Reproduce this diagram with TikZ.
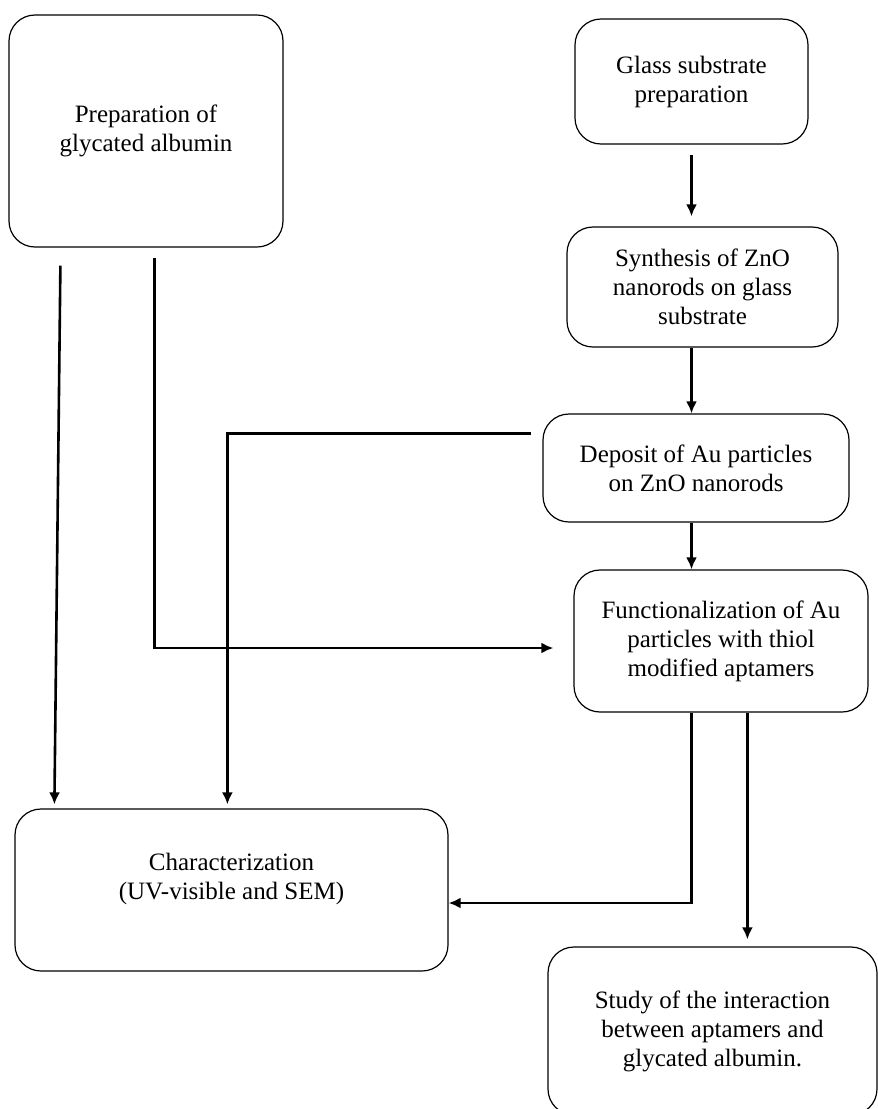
\documentclass[tikz,border=0pt]{standalone}
\usepackage{fontspec}
\setmainfont{Liberation Serif}
\usetikzlibrary{arrows.meta,calc}

\begin{document}
\begin{tikzpicture}[
		x=0.5pt,y=-0.5pt,
		box/.style={rectangle,draw,rounded corners=13pt,line width=0.6pt,align=center,
			font=\fontsize{12.5}{14.5}\selectfont},
		flow/.style={line width=1.3pt,-{Latex[length=6pt,width=5.5pt]}}
		]
		\useasboundingbox (0,0) rectangle (878,1109);
		\node[box,minimum width=137pt,minimum height=116pt] (prep) at (146,131) {Preparation of\\glycated albumin};
		\node[box,minimum width=116.5pt,minimum height=62.5pt] (glass) at (691.5,81.5) {Glass substrate\\preparation};
		\node[box,minimum width=135.5pt,minimum height=60pt] (synth) at (702.5,287) {Synthesis of ZnO\\nanorods on glass\\substrate};
		\node[box,minimum width=153pt,minimum height=54pt] (dep) at (696,468) {Deposit of Au particles\\on ZnO nanorods};
		\node[box,minimum width=147pt,minimum height=71pt] (func) at (721,641) {Functionalization of Au\\particles with thiol\\modified aptamers};
		\node[box,minimum width=216.5pt,minimum height=81pt] (char) at (231.5,890) {Characterization\\(UV-visible and SEM)\\[-0.5pt]};
		\node[box,minimum width=164.5pt,minimum height=84pt] (study) at (712.5,1031) {Study of the interaction\\between aptamers and\\glycated albumin.};
		\coordinate (p1) at ($(prep.south west)+(52,18)$);
		\coordinate (p2) at ($(prep.south west)+(146,10)$);
		\coordinate (q1) at ($(char.north west)+(40,-4)$);
		\coordinate (q2) at ($(func.west)+(-20,7)$);
		\coordinate (d1) at ($(dep.north west)+(-11,20)$);
		\coordinate (d2) at ($(char.north west)+(213,-4)$);
		\coordinate (f1) at ($(func.south west)+(118,0)$);
		\coordinate (f2) at ($(func.south west)+(174,0)$);
		\coordinate (c1) at ($(char.east)+(0,13)$);
		\coordinate (s1) at ($(study.north west)+(200,-7)$);
		\draw[flow,shorten <=5pt,shorten >=5pt] (glass.south) -- (synth.north -| glass.south);
		\draw[flow] (synth.south -| glass.south) -- (dep.north -| glass.south);
		\draw[flow] (dep.south -| glass.south) -- (func.north -| glass.south);
		\draw[flow] (p1) -- (q1);
		\draw[flow] (p2) |- (q2);
		\draw[flow] (d1) -| (d2);
		\draw[flow] (f1) |- (c1);
		\draw[flow] (f2) -- (s1);
	\end{tikzpicture}
\end{document}
